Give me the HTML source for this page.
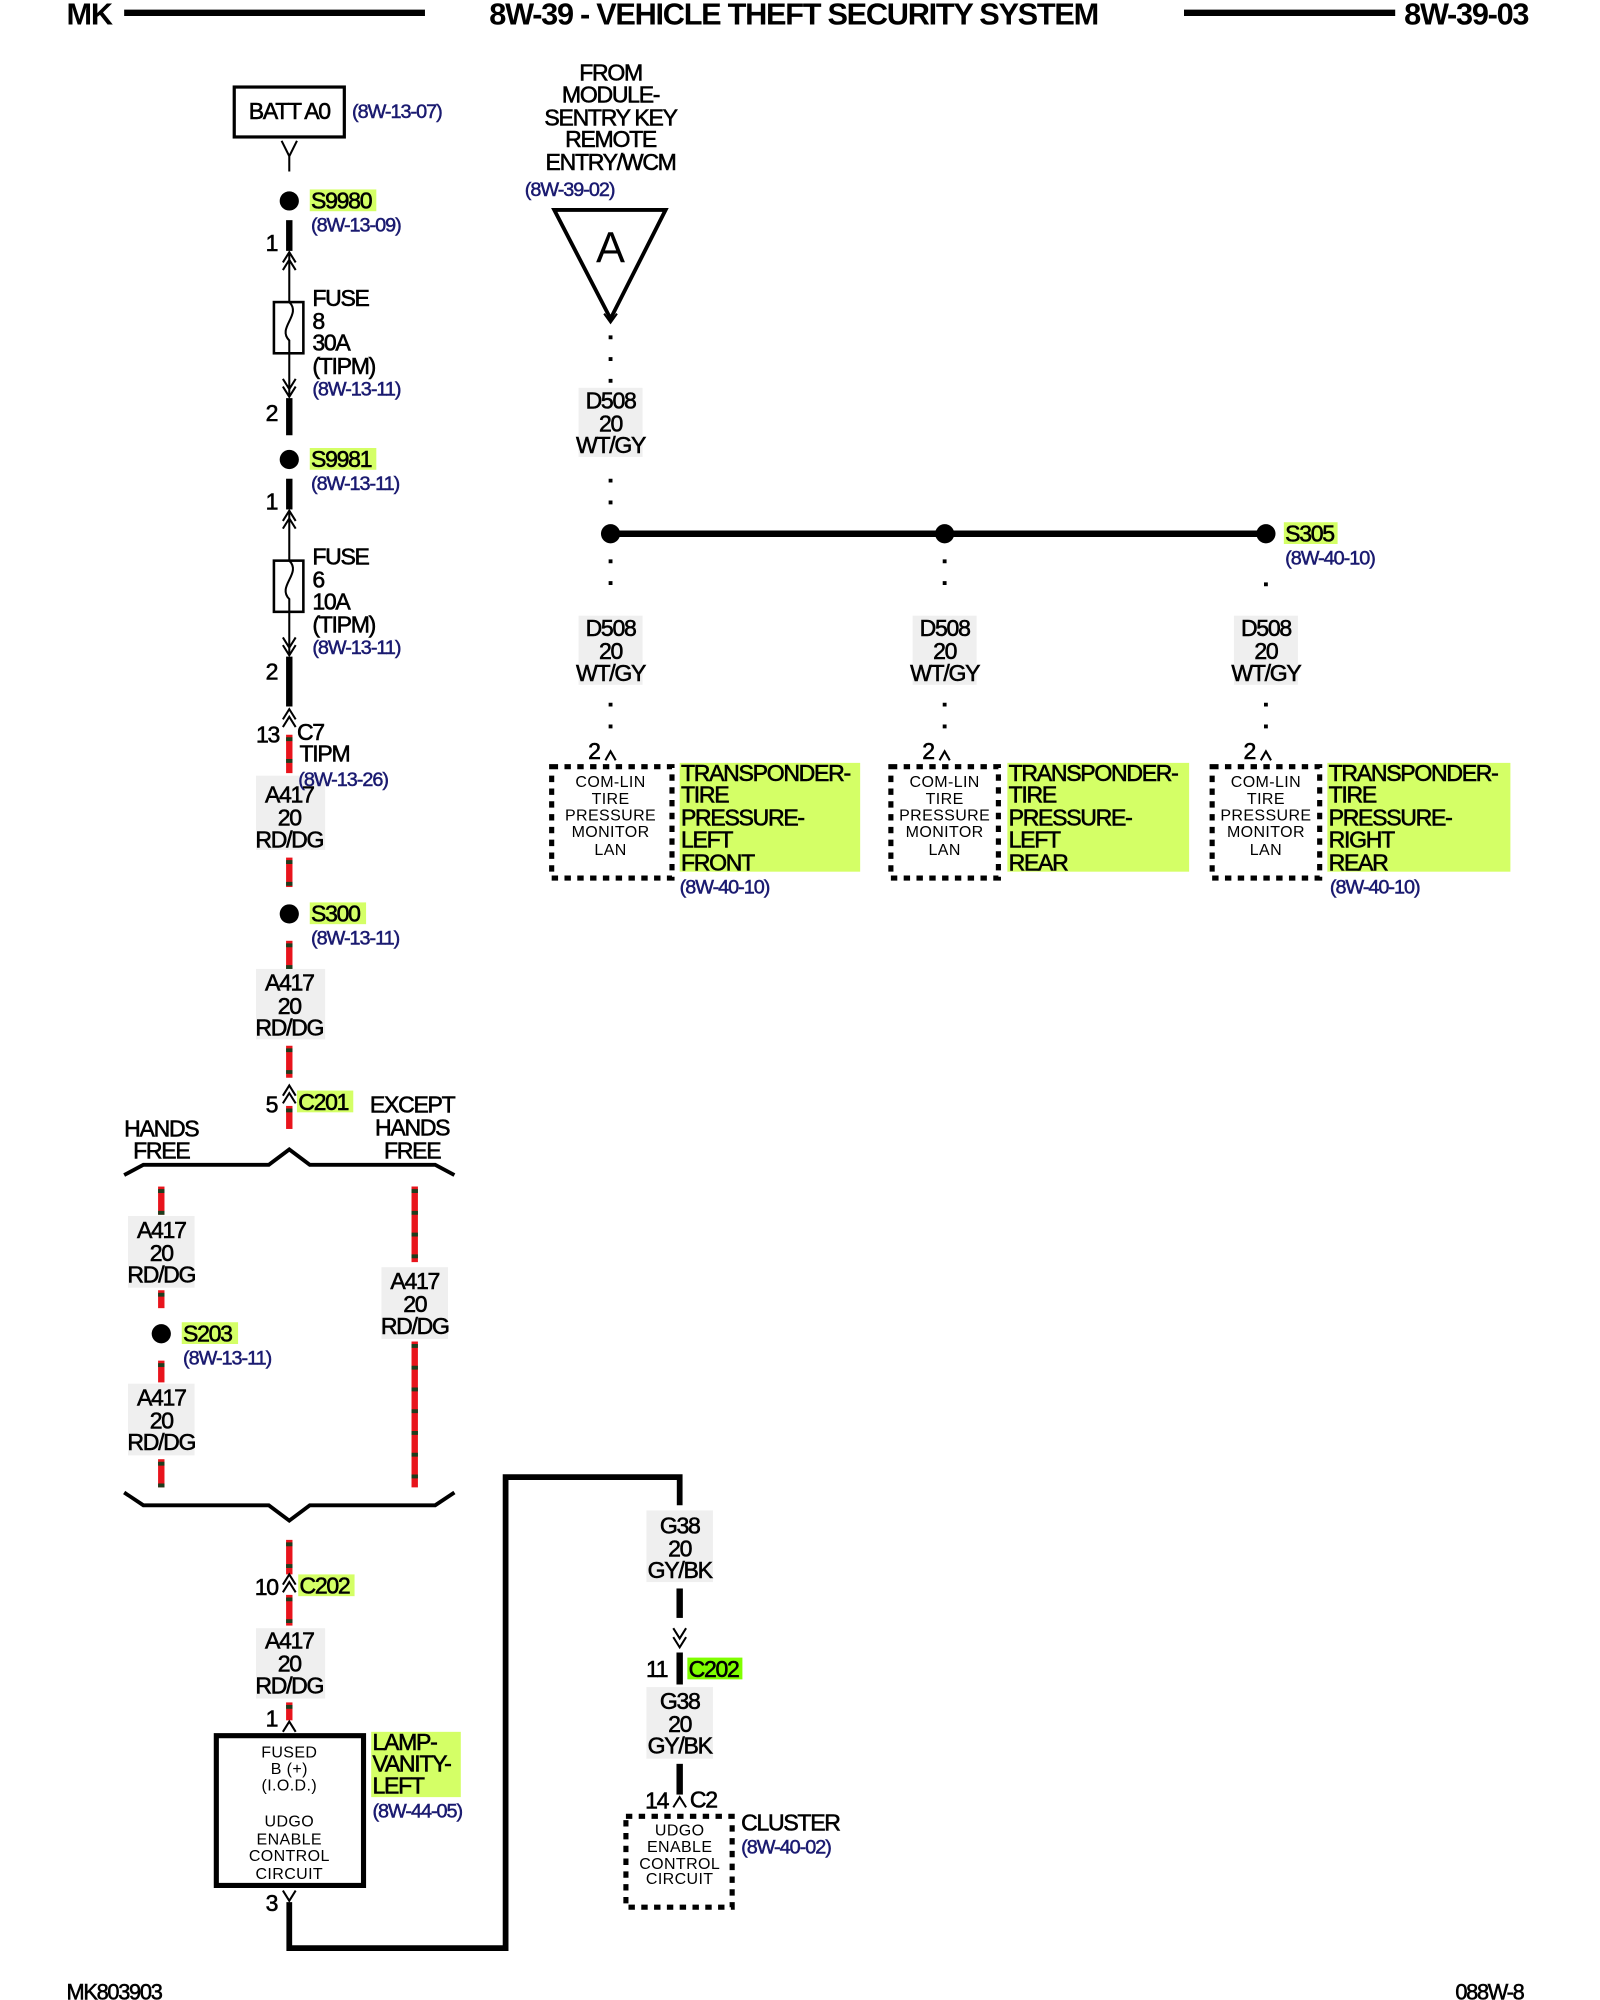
<!DOCTYPE html>
<html><head><meta charset="utf-8"><style>
html,body{margin:0;padding:0;background:#fff}
svg{display:block}
text{font-family:"Liberation Sans",Arial,sans-serif;fill:#000}
.l{font-size:18px;letter-spacing:-1px;text-anchor:middle;stroke:#000;stroke-width:0.45}
.ls{font-size:18px;letter-spacing:-1px;stroke:#000;stroke-width:0.45}
.r{font-size:15.5px;letter-spacing:-0.8px;fill:#1a1a70;stroke:#1a1a70;stroke-width:0.4}
.s{font-size:12.5px;text-anchor:middle;letter-spacing:0.3px}
.h{font-size:24px;letter-spacing:-1px;font-weight:bold}
.red{stroke:#e8141c;stroke-width:5}
.grn{stroke:#1d3d1d;stroke-width:5;stroke-dasharray:3 14}
.thk{stroke:#000;stroke-width:5}
.thin{stroke:#000;stroke-width:1.6;fill:none}
.dot{stroke:#000;stroke-width:3;stroke-dasharray:3 14}
.bg{fill:#efefef}
.gb{fill:#d4ff66}
</style></head><body>
<svg width="1600" height="2000" viewBox="0 0 1250 1562.5" preserveAspectRatio="none" xmlns="http://www.w3.org/2000/svg">
<!-- header -->
<text x="52" y="19" class="h">MK</text>
<line x1="97" y1="10" x2="332" y2="10" stroke="#000" stroke-width="5"/>
<text x="620" y="19" class="h" style="text-anchor:middle">8W-39 - VEHICLE THEFT SECURITY SYSTEM</text>
<line x1="925" y1="10" x2="1090" y2="10" stroke="#000" stroke-width="5"/>
<text x="1097" y="19" class="h">8W-39-03</text>

<!-- BATT -->
<rect x="183" y="68" width="86" height="39" fill="none" stroke="#000" stroke-width="2.5"/>
<text x="226" y="93" class="l">BATT A0</text>
<text x="275" y="92" class="r">(8W-13-07)</text>
<path d="M220 110 L226 122 L232 110 M226 122 V134" class="thin" stroke-width="2"/>

<!-- S9980 -->
<circle cx="226" cy="157" r="7.5"/>
<rect x="242" y="148" width="52" height="17" class="gb"/>
<text x="243" y="163" class="ls">S9980</text>
<text x="243" y="181" class="r">(8W-13-09)</text>
<text x="212" y="196" class="l">1</text>
<line x1="226" y1="172" x2="226" y2="196" class="thk"/>
<path d="M221 205 L226 197 L231 205 M221 211 L226 203 L231 211 M226 197 V236 M226 276 V310 M221 302 L226 310 L231 302 M221 296 L226 304 L231 296" class="thin"/>
<rect x="214" y="236" width="23" height="40" fill="none" stroke="#000" stroke-width="2"/>
<path d="M226 236 C236 246 216 256 226 266 V276" class="thin"/>
<text x="244" y="239" class="ls">FUSE</text>
<text x="244" y="257" class="ls">8</text>
<text x="244" y="274" class="ls">30A</text>
<text x="244" y="292" class="ls">(TIPM)</text>
<text x="244" y="309" class="r">(8W-13-11)</text>
<text x="212" y="329" class="l">2</text>
<line x1="226" y1="311" x2="226" y2="340" class="thk"/>

<!-- S9981 -->
<circle cx="226" cy="359" r="7.5"/>
<rect x="242" y="350" width="52" height="17" class="gb"/>
<text x="243" y="365" class="ls">S9981</text>
<text x="243" y="383" class="r">(8W-13-11)</text>
<text x="212" y="398" class="l">1</text>
<line x1="226" y1="374" x2="226" y2="398" class="thk"/>
<path d="M221 407 L226 399 L231 407 M221 413 L226 405 L231 413 M226 399 V438 M226 478 V512 M221 504 L226 512 L231 504 M221 498 L226 506 L231 498" class="thin"/>
<rect x="214" y="438" width="23" height="40" fill="none" stroke="#000" stroke-width="2"/>
<path d="M226 438 C236 448 216 458 226 468 V478" class="thin"/>
<text x="244" y="441" class="ls">FUSE</text>
<text x="244" y="459" class="ls">6</text>
<text x="244" y="476" class="ls">10A</text>
<text x="244" y="494" class="ls">(TIPM)</text>
<text x="244" y="511" class="r">(8W-13-11)</text>
<text x="212" y="531" class="l">2</text>
<line x1="226" y1="513" x2="226" y2="552" class="thk"/>
<path d="M221 562 L226 554 L231 562 M221 568 L226 560 L231 568" class="thin"/>
<text x="209" y="580" class="l">13</text>
<text x="232" y="578" class="ls">C7</text>
<text x="234" y="595" class="ls">TIPM</text>

<!-- red wires main -->
<g>
<line x1="226" y1="574" x2="226" y2="604" class="red"/><line x1="226" y1="576" x2="226" y2="604" class="grn"/>
<rect x="200" y="606" width="54" height="58" class="bg"/>
<text x="233" y="614" class="r">(8W-13-26)</text>
<text x="226" y="627" class="l">A417</text><text x="226" y="645" class="l">20</text><text x="226" y="662" class="l">RD/DG</text>
<line x1="226" y1="670" x2="226" y2="693" class="red"/><line x1="226" y1="672" x2="226" y2="693" class="grn"/>
<circle cx="226" cy="714" r="7.5" fill="#000"/>
<rect x="242" y="705" width="44" height="17" class="gb"/>
<text x="243" y="720" class="ls">S300</text>
<text x="243" y="738" class="r">(8W-13-11)</text>
<line x1="226" y1="735" x2="226" y2="757" class="red"/><line x1="226" y1="737" x2="226" y2="757" class="grn"/>
<rect x="200" y="757" width="54" height="55" class="bg"/>
<text x="226" y="774" class="l">A417</text><text x="226" y="792" class="l">20</text><text x="226" y="809" class="l">RD/DG</text>
<line x1="226" y1="817" x2="226" y2="842" class="red"/><line x1="226" y1="819" x2="226" y2="842" class="grn"/>
<path d="M221 856 L226 848 L231 856 M221 862 L226 854 L231 862" class="thin"/>
<text x="212" y="869" class="l">5</text>
<rect x="232" y="852" width="44" height="17" class="gb"/>
<text x="233" y="867" class="ls">C201</text>
<line x1="226" y1="864" x2="226" y2="882" class="red"/><line x1="226" y1="866" x2="226" y2="882" class="grn"/>
</g>
<text x="126" y="888" class="l">HANDS</text><text x="126" y="905" class="l">FREE</text>
<text x="322" y="869" class="l">EXCEPT</text><text x="322" y="887" class="l">HANDS</text><text x="322" y="905" class="l">FREE</text>
<path d="M97 918 L112 910 H210 L226 898 L242 910 H340 L355 918" fill="none" stroke="#000" stroke-width="3"/>

<!-- left branch -->
<line x1="126" y1="927" x2="126" y2="949" class="red"/><line x1="126" y1="929" x2="126" y2="949" class="grn"/>
<rect x="100" y="950" width="52" height="56" class="bg"/>
<text x="126" y="967" class="l">A417</text><text x="126" y="985" class="l">20</text><text x="126" y="1002" class="l">RD/DG</text>
<line x1="126" y1="1008" x2="126" y2="1022" class="red"/><line x1="126" y1="1010" x2="126" y2="1022" class="grn"/>
<circle cx="126" cy="1042" r="7.5"/>
<rect x="142" y="1033" width="44" height="17" class="gb"/>
<text x="143" y="1048" class="ls">S203</text>
<text x="143" y="1066" class="r">(8W-13-11)</text>
<line x1="126" y1="1063" x2="126" y2="1080" class="red"/><line x1="126" y1="1065" x2="126" y2="1080" class="grn"/>
<rect x="100" y="1081" width="52" height="56" class="bg"/>
<text x="126" y="1098" class="l">A417</text><text x="126" y="1116" class="l">20</text><text x="126" y="1133" class="l">RD/DG</text>
<line x1="126" y1="1140" x2="126" y2="1162" class="red"/><line x1="126" y1="1142" x2="126" y2="1162" class="grn"/>

<!-- right branch -->
<line x1="324" y1="927" x2="324" y2="986" class="red"/><line x1="324" y1="929" x2="324" y2="986" class="grn"/>
<rect x="298" y="990" width="52" height="56" class="bg"/>
<text x="324" y="1007" class="l">A417</text><text x="324" y="1025" class="l">20</text><text x="324" y="1042" class="l">RD/DG</text>
<line x1="324" y1="1048" x2="324" y2="1162" class="red"/><line x1="324" y1="1050" x2="324" y2="1162" class="grn"/>

<path d="M97 1166 L112 1176 H210 L226 1188 L242 1176 H340 L355 1166" fill="none" stroke="#000" stroke-width="3"/>

<line x1="226" y1="1203" x2="226" y2="1230" class="red"/><line x1="226" y1="1205" x2="226" y2="1230" class="grn"/>
<path d="M221 1238 L226 1230 L231 1238 M221 1244 L226 1236 L231 1244" class="thin"/>
<text x="208" y="1246" class="l">10</text>
<rect x="233" y="1230" width="44" height="17" class="gb"/>
<text x="234" y="1245" class="ls">C202</text>
<line x1="226" y1="1246" x2="226" y2="1270" class="red"/><line x1="226" y1="1248" x2="226" y2="1270" class="grn"/>
<rect x="200" y="1272" width="54" height="55" class="bg"/>
<text x="226" y="1288" class="l">A417</text><text x="226" y="1306" class="l">20</text><text x="226" y="1323" class="l">RD/DG</text>
<line x1="226" y1="1330" x2="226" y2="1344" class="red"/><line x1="226" y1="1332" x2="226" y2="1344" class="grn"/>
<text x="212" y="1349" class="l">1</text>
<path d="M221 1353 L226 1345 L231 1353" class="thin"/>
<rect x="169" y="1356" width="115" height="117" fill="none" stroke="#000" stroke-width="4"/>
<text x="226" y="1373" class="s">FUSED</text><text x="226" y="1386" class="s">B (+)</text><text x="226" y="1399" class="s">(I.O.D.)</text>
<text x="226" y="1427" class="s">UDGO</text><text x="226" y="1441" class="s">ENABLE</text><text x="226" y="1454" class="s">CONTROL</text><text x="226" y="1468" class="s">CIRCUIT</text>
<rect x="290" y="1353" width="70" height="51" class="gb"/>
<text x="291" y="1367" class="ls">LAMP-</text><text x="291" y="1384" class="ls">VANITY-</text><text x="291" y="1401" class="ls">LEFT</text>
<text x="291" y="1420" class="r">(8W-44-05)</text>
<text x="212" y="1493" class="l">3</text>
<path d="M221 1477 L226 1485 L231 1477" class="thin"/>
<path d="M226 1486 V1522 H395 V1154 H531 V1176" fill="none" stroke="#000" stroke-width="4.5"/>

<!-- G38 -->
<rect x="505" y="1180" width="52" height="56" class="bg"/>
<text x="531" y="1198" class="l">G38</text><text x="531" y="1216" class="l">20</text><text x="531" y="1233" class="l">GY/BK</text>
<line x1="531" y1="1241" x2="531" y2="1264" class="thk"/>
<path d="M526 1272 L531 1280 L536 1272 M526 1279 L531 1287 L536 1279" class="thin"/>
<text x="513" y="1310" class="l">11</text>
<line x1="531" y1="1291" x2="531" y2="1316" class="thk"/>
<rect x="537" y="1295" width="43" height="17" fill="#7fff00"/>
<text x="538" y="1310" class="ls">C202</text>
<rect x="505" y="1318" width="52" height="56" class="bg"/>
<text x="531" y="1335" class="l">G38</text><text x="531" y="1353" class="l">20</text><text x="531" y="1370" class="l">GY/BK</text>
<line x1="531" y1="1378" x2="531" y2="1402" class="thk"/>
<path d="M526 1412 L531 1404 L536 1412" class="thin"/>
<text x="513" y="1413" class="l">14</text>
<text x="539" y="1412" class="ls">C2</text>
<rect x="489" y="1419" width="83" height="71" fill="none" stroke="#000" stroke-width="4" stroke-dasharray="5 5"/>
<text x="531" y="1434" class="s">UDGO</text><text x="531" y="1447" class="s">ENABLE</text><text x="531" y="1460" class="s">CONTROL</text><text x="531" y="1472" class="s">CIRCUIT</text>
<text x="579" y="1430" class="ls">CLUSTER</text>
<text x="579" y="1448" class="r">(8W-40-02)</text>

<!-- right top -->
<text x="477" y="63" class="l">FROM</text>
<text x="477" y="80" class="l">MODULE-</text>
<text x="477" y="98" class="l">SENTRY KEY</text>
<text x="477" y="115" class="l">REMOTE</text>
<text x="477" y="133" class="l">ENTRY/WCM</text>
<text x="410" y="153" class="r">(8W-39-02)</text>
<path d="M433 164 H520 L477 249 Z" fill="none" stroke="#000" stroke-width="3"/>
<text x="477" y="205" style="font-size:34px;text-anchor:middle">A</text>
<path d="M472 245 L477 252 L482 245" class="thin"/>
<line x1="477" y1="262" x2="477" y2="300" class="dot"/>
<rect x="452" y="303" width="50" height="54" class="bg"/>
<text x="477" y="319" class="l">D508</text><text x="477" y="337" class="l">20</text><text x="477" y="354" class="l">WT/GY</text>
<line x1="477" y1="374" x2="477" y2="400" class="dot"/>
<line x1="477" y1="417" x2="989" y2="417" stroke="#000" stroke-width="5"/>
<circle cx="477" cy="417" r="7.5"/><circle cx="738" cy="417" r="7.5"/><circle cx="989" cy="417" r="7.5"/>
<rect x="1003" y="408" width="42" height="17" class="gb"/>
<text x="1004" y="423" class="ls">S305</text>
<text x="1004" y="441" class="r">(8W-40-10)</text>

<g>
<line x1="477" y1="437" x2="477" y2="470" class="dot"/>
<rect x="452" y="481" width="50" height="54" class="bg"/>
<text x="477" y="497" class="l">D508</text><text x="477" y="515" class="l">20</text><text x="477" y="532" class="l">WT/GY</text>
<line x1="477" y1="549" x2="477" y2="580" class="dot"/>
<text x="464" y="593" class="l">2</text><path d="M473 594 L477 587 L481 594" class="thin"/>
<rect x="431" y="599" width="94" height="87" fill="none" stroke="#000" stroke-width="4" stroke-dasharray="5 5"/>
<text x="477" y="615" class="s">COM-LIN</text><text x="477" y="628" class="s">TIRE</text><text x="477" y="641" class="s">PRESSURE</text><text x="477" y="654" class="s">MONITOR</text><text x="477" y="668" class="s">LAN</text>
<rect x="531" y="596" width="141" height="85" class="gb"/>
<text x="532" y="610" class="ls">TRANSPONDER-</text><text x="532" y="627" class="ls">TIRE</text><text x="532" y="645" class="ls">PRESSURE-</text><text x="532" y="662" class="ls">LEFT</text><text x="532" y="680" class="ls">FRONT</text>
<text x="531" y="698" class="r">(8W-40-10)</text>
</g>
<g>
<line x1="738" y1="437" x2="738" y2="470" class="dot"/>
<rect x="713" y="481" width="50" height="54" class="bg"/>
<text x="738" y="497" class="l">D508</text><text x="738" y="515" class="l">20</text><text x="738" y="532" class="l">WT/GY</text>
<line x1="738" y1="549" x2="738" y2="580" class="dot"/>
<text x="725" y="593" class="l">2</text><path d="M734 594 L738 587 L742 594" class="thin"/>
<rect x="696" y="599" width="84" height="87" fill="none" stroke="#000" stroke-width="4" stroke-dasharray="5 5"/>
<text x="738" y="615" class="s">COM-LIN</text><text x="738" y="628" class="s">TIRE</text><text x="738" y="641" class="s">PRESSURE</text><text x="738" y="654" class="s">MONITOR</text><text x="738" y="668" class="s">LAN</text>
<rect x="787" y="596" width="142" height="85" class="gb"/>
<text x="788" y="610" class="ls">TRANSPONDER-</text><text x="788" y="627" class="ls">TIRE</text><text x="788" y="645" class="ls">PRESSURE-</text><text x="788" y="662" class="ls">LEFT</text><text x="788" y="680" class="ls">REAR</text>
</g>
<g>
<line x1="989" y1="455" x2="989" y2="470" class="dot"/>
<rect x="964" y="481" width="50" height="54" class="bg"/>
<text x="989" y="497" class="l">D508</text><text x="989" y="515" class="l">20</text><text x="989" y="532" class="l">WT/GY</text>
<line x1="989" y1="549" x2="989" y2="580" class="dot"/>
<text x="976" y="593" class="l">2</text><path d="M985 594 L989 587 L993 594" class="thin"/>
<rect x="947" y="599" width="84" height="87" fill="none" stroke="#000" stroke-width="4" stroke-dasharray="5 5"/>
<text x="989" y="615" class="s">COM-LIN</text><text x="989" y="628" class="s">TIRE</text><text x="989" y="641" class="s">PRESSURE</text><text x="989" y="654" class="s">MONITOR</text><text x="989" y="668" class="s">LAN</text>
<rect x="1037" y="596" width="143" height="85" class="gb"/>
<text x="1038" y="610" class="ls">TRANSPONDER-</text><text x="1038" y="627" class="ls">TIRE</text><text x="1038" y="645" class="ls">PRESSURE-</text><text x="1038" y="662" class="ls">RIGHT</text><text x="1038" y="680" class="ls">REAR</text>
<text x="1039" y="698" class="r">(8W-40-10)</text>
</g>

<!-- footer -->
<text x="52" y="1562" class="ls" style="font-size:17px">MK803903</text>
<text x="1137" y="1562" class="ls" style="font-size:17px">088W-8</text>
</svg>
</body></html>
